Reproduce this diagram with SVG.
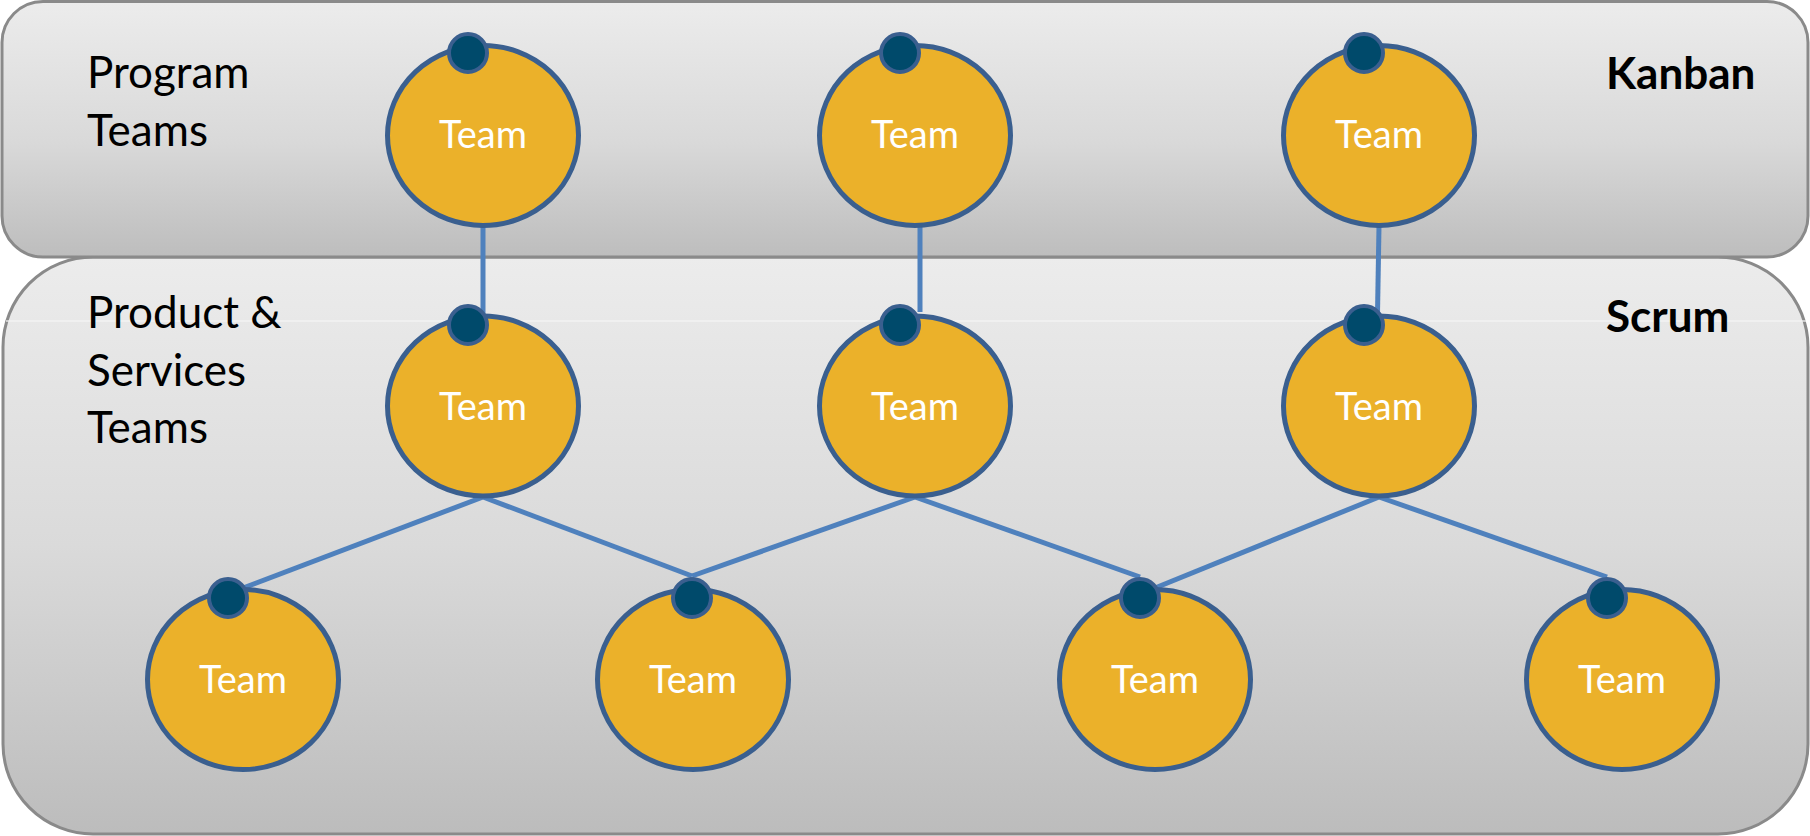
<svg xmlns="http://www.w3.org/2000/svg" width="1810" height="836" viewBox="0 0 1810 836">
  <defs>
    <linearGradient id="panelTop" x1="0" y1="0" x2="0" y2="1">
      <stop offset="0" stop-color="#ececec"/>
      <stop offset="0.55" stop-color="#d9d9d9"/>
      <stop offset="1" stop-color="#bdbdbd"/>
    </linearGradient>
    <linearGradient id="panelBottom" x1="0" y1="0" x2="0" y2="1">
      <stop offset="0" stop-color="#ececec"/>
      <stop offset="0.5" stop-color="#dadada"/>
      <stop offset="1" stop-color="#bcbcbc"/>
    </linearGradient>
    <style>
      .panel { stroke: #8a8a8a; stroke-width: 3; }
      .label { font-family: Lato, "Liberation Sans", sans-serif; font-size: 44px; fill: #000; }
      .method { font-family: Lato, "Liberation Sans", sans-serif; font-size: 44px; font-weight: bold; fill: #000; }
      .team { fill: #ebb12a; stroke: #3a5f8f; stroke-width: 5; }
      .port { fill: #004a6b; stroke: #3a5f8f; stroke-width: 4; }
      .team-text { font-family: Lato, "Liberation Sans", sans-serif; font-size: 38px; fill: #fff; text-anchor: middle; }
      .link { stroke: #4f81bd; stroke-width: 5; fill: none; }
    </style>
  </defs>

  <rect width="1810" height="836" fill="#ffffff"/>

  <!-- swimlane panels -->
  <g id="lane-scrum">
    <rect class="panel" x="3" y="257" width="1805" height="577" rx="90" ry="90" fill="url(#panelBottom)"/>
    <line x1="6" y1="321" x2="1806" y2="321" stroke="#f6f6f6" stroke-width="1.5" opacity="0.8"/>
    <text class="label" x="87" y="328">Product &amp;</text>
    <text class="label" x="87" y="386">Services</text>
    <text class="label" x="87" y="443">Teams</text>
    <text class="method" x="1606" y="332">Scrum</text>
  </g>
  <g id="lane-kanban">
    <rect class="panel" x="2" y="1.5" width="1806" height="255.5" rx="41" ry="41" fill="url(#panelTop)"/>
    <text class="label" x="87" y="88">Program</text>
    <text class="label" x="87" y="146">Teams</text>
    <text class="method" x="1606" y="89">Kanban</text>
  </g>

  <!-- connectors -->
  <g id="connectors">
    <line class="link" x1="483" y1="226" x2="483" y2="318"/>
    <line class="link" x1="920" y1="222" x2="920" y2="312"/>
    <line class="link" x1="1379" y1="226" x2="1377.5" y2="314"/>
    <line class="link" x1="483" y1="497" x2="243" y2="588"/>
    <line class="link" x1="483" y1="497" x2="692" y2="576"/>
    <line class="link" x1="915" y1="497" x2="692" y2="576"/>
    <line class="link" x1="915" y1="497" x2="1140" y2="577"/>
    <line class="link" x1="1379" y1="497" x2="1155" y2="588"/>
    <line class="link" x1="1379" y1="497" x2="1607" y2="577"/>
  </g>

  <!-- program teams -->
  <g id="program-team-1">
    <ellipse class="team" cx="483" cy="135.5" rx="95.5" ry="90"/>
    <circle class="port" cx="468" cy="53" r="19"/>
    <text class="team-text" x="483" y="148">Team</text>
  </g>
  <g id="program-team-2">
    <ellipse class="team" cx="915" cy="135.5" rx="95.5" ry="90"/>
    <circle class="port" cx="900" cy="53" r="19"/>
    <text class="team-text" x="915" y="148">Team</text>
  </g>
  <g id="program-team-3">
    <ellipse class="team" cx="1379" cy="135.5" rx="95.5" ry="90"/>
    <circle class="port" cx="1364" cy="53" r="19"/>
    <text class="team-text" x="1379" y="148">Team</text>
  </g>

  <!-- product & services teams -->
  <g id="product-team-1">
    <ellipse class="team" cx="483" cy="406" rx="95.5" ry="90"/>
    <circle class="port" cx="468" cy="325" r="19"/>
    <text class="team-text" x="483" y="420">Team</text>
  </g>
  <g id="product-team-2">
    <ellipse class="team" cx="915" cy="406" rx="95.5" ry="90"/>
    <circle class="port" cx="900" cy="325" r="19"/>
    <text class="team-text" x="915" y="420">Team</text>
  </g>
  <g id="product-team-3">
    <ellipse class="team" cx="1379" cy="406" rx="95.5" ry="90"/>
    <circle class="port" cx="1364" cy="325" r="19"/>
    <text class="team-text" x="1379" y="420">Team</text>
  </g>

  <!-- delivery teams -->
  <g id="team-1">
    <ellipse class="team" cx="243" cy="679.5" rx="95.5" ry="90"/>
    <circle class="port" cx="228" cy="598" r="19"/>
    <text class="team-text" x="243" y="693">Team</text>
  </g>
  <g id="team-2">
    <ellipse class="team" cx="693" cy="679.5" rx="95.5" ry="90"/>
    <circle class="port" cx="692" cy="598" r="19"/>
    <text class="team-text" x="693" y="693">Team</text>
  </g>
  <g id="team-3">
    <ellipse class="team" cx="1155" cy="679.5" rx="95.5" ry="90"/>
    <circle class="port" cx="1140" cy="598" r="19"/>
    <text class="team-text" x="1155" y="693">Team</text>
  </g>
  <g id="team-4">
    <ellipse class="team" cx="1622" cy="679.5" rx="95.5" ry="90"/>
    <circle class="port" cx="1607" cy="598" r="19"/>
    <text class="team-text" x="1622" y="693">Team</text>
  </g>
</svg>
